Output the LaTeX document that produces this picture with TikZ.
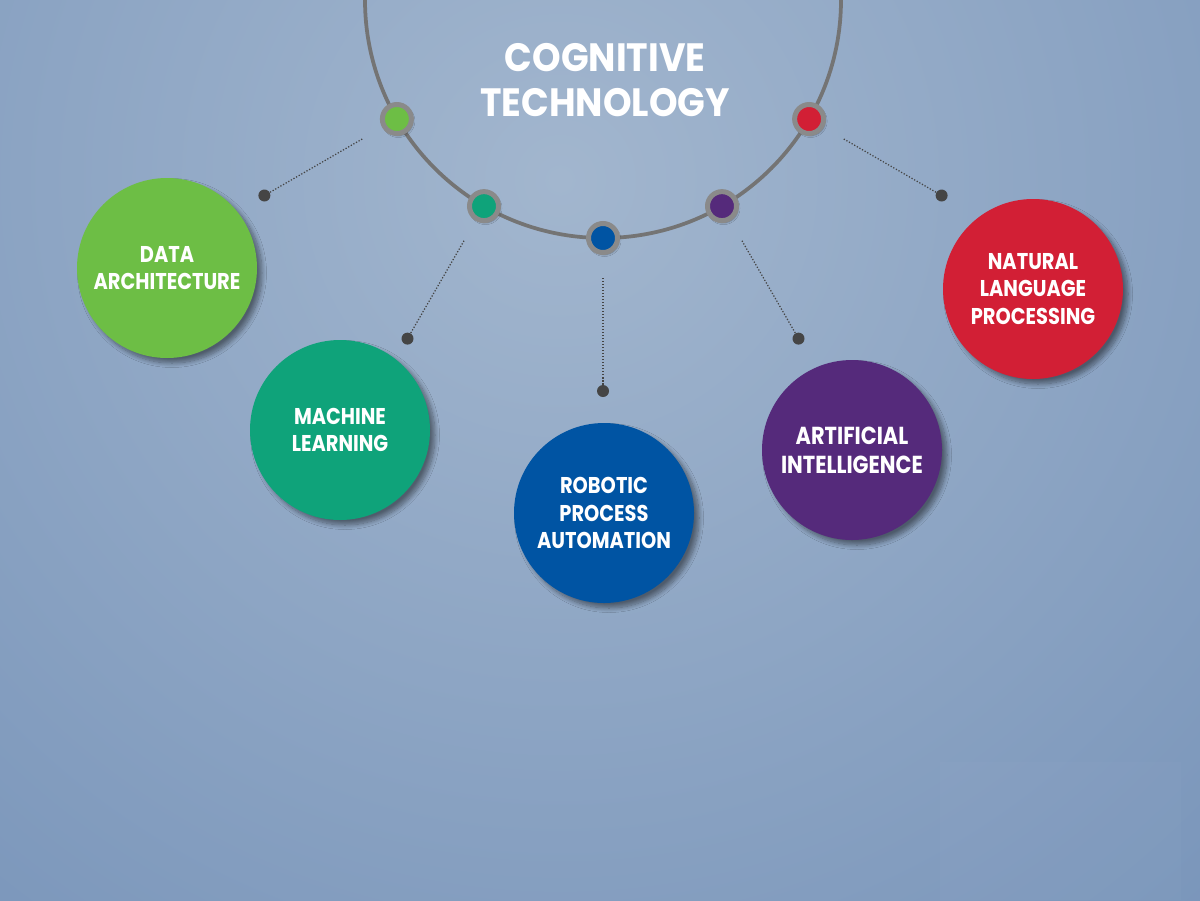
\documentclass[tikz,border=0pt]{standalone}
\usepackage{fontspec}
\setmainfont{Poppins}
\newfontfamily\titlefont{Poppins}[FakeStretch=0.92]
\newfontfamily\labelfont{Poppins}[FakeStretch=0.85]
\usepackage{tikz}
\usetikzlibrary{calc, shadows.blur}

\definecolor{bgin}{HTML}{A2B6CE}
\definecolor{bgout}{HTML}{7390B7}
\definecolor{cda}{HTML}{6DBE45}
\definecolor{cml}{HTML}{0FA37A}
\definecolor{crpa}{HTML}{0054A3}
\definecolor{cai}{HTML}{552A7B}
\definecolor{cnlp}{HTML}{D21F35}
\definecolor{ringgray}{HTML}{8A8A8A}
\definecolor{arcgray}{HTML}{747474}
\definecolor{pingray}{HTML}{454545}

\tikzset{
  topic/.style={circle, minimum size=3.6cm, inner sep=0pt, fill=#1, text=white, align=center,
    font=\labelfont\bfseries\fontsize{13}{15.5}\selectfont,
    blur shadow={shadow xshift=1mm, shadow yshift=-1mm, shadow blur radius=0.9mm, shadow blur steps=10, shadow opacity=45}},
  hubdot/.style={circle, minimum size=0.58cm, inner sep=0pt, fill=#1, draw=ringgray, line width=1mm,
    blur shadow={shadow xshift=0.3mm, shadow yshift=-0.4mm, shadow blur radius=0.4mm, shadow opacity=40}},
  pinhead/.style={circle, minimum size=2.4mm, inner sep=0pt, fill=pingray},
  lead/.style={densely dotted, line width=0.25mm, draw=pingray}
}

\begin{document}
\begin{tikzpicture}[x=0.2mm, y=-0.2mm]
    \useasboundingbox (0,0) rectangle (1200,900);
    \clip (0,0) rectangle (1200,900);
    \shade[inner color=bgin, outer color=bgout] (560,180) circle (1150);
    \fill[white, opacity=0.02] (940,762) rectangle (1181,900);

    \coordinate (hub) at (603,0);
    \draw[arcgray, line width=0.75mm] (hub) ++(180:238) arc[start angle=180, end angle=0, radius=238];

    \foreach \a/\c/\n in {150/cda/1, 120/cml/2, 90/crpa/3, 60/cai/4, 30/cnlp/5} {
        \node[hubdot=\c] (h\n) at ($(hub)+(\a:238)$) {};
        \coordinate (s\n) at ($(hub)+(\a:278)$);
        \node[pinhead] (t\n) at ($(hub)+(\a:391)$) {};
        \draw[lead] (s\n) -- (t\n);
    }

    \node[text=white, align=center, font=\titlefont\bfseries\fontsize{22.5}{25.6}\selectfont] (title) at (605,80) {COGNITIVE\\TECHNOLOGY};

    \node[topic=cda] (da) at (167,268) {DATA\\ARCHITECTURE};
    \node[topic=cml] (ml) at (340,430) {MACHINE\\LEARNING};
    \node[topic=crpa] (rpa) at (604,513) {ROBOTIC\\PROCESS\\AUTOMATION};
    \node[topic=cai, font=\labelfont\bfseries\fontsize{14}{16.5}\selectfont] (ai) at (852,450) {ARTIFICIAL\\INTELLIGENCE};
    \node[topic=cnlp] (nlp) at (1033,289) {NATURAL\\LANGUAGE\\PROCESSING};
\end{tikzpicture}
\end{document}
